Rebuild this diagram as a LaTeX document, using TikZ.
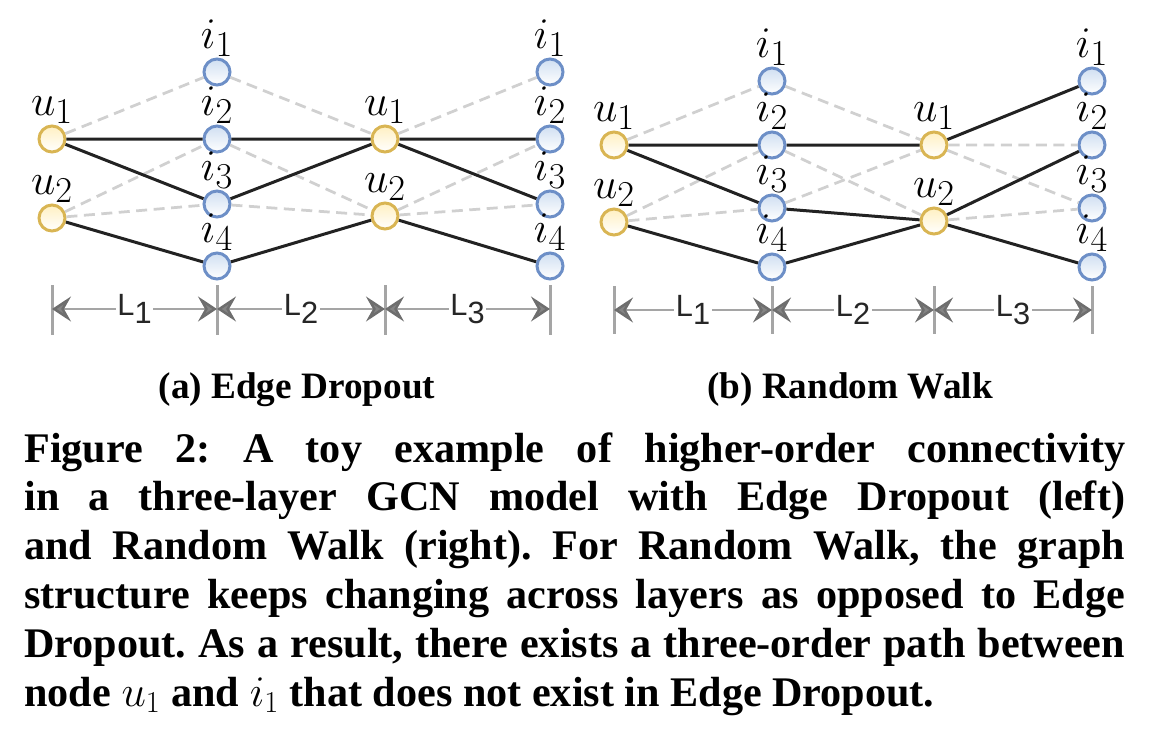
\documentclass[tikz,border=0pt]{standalone}
\usepackage{fontspec}
\setmainfont{Liberation Serif}
\newfontfamily\dimfont{Liberation Sans}
\usetikzlibrary{arrows.meta}

\definecolor{ugold}{HTML}{D9B553}
\definecolor{ufill}{HTML}{FFF0C2}
\definecolor{iblue}{HTML}{6D8FC7}
\definecolor{ifill}{HTML}{D0DFF2}
\definecolor{edgedark}{HTML}{222222}
\definecolor{edgelight}{HTML}{D0D0D0}
\definecolor{dimgray}{HTML}{A5A5A5}
\definecolor{tipgray}{HTML}{6E6E6E}

\newcommand{\layerlab}[1]{{\dimfont L\raisebox{-0.25em}{#1}}}

\tikzset{
  unode/.style={circle, draw=ugold, line width=0.06cm, top color=ufill, bottom color=white,
    minimum size=0.52cm, inner sep=0pt},
  inode/.style={circle, draw=iblue, line width=0.06cm, top color=ifill, bottom color=white,
    minimum size=0.52cm, inner sep=0pt},
  nlab/.style={font=\fontsize{24.88}{28}\selectfont, inner sep=0.3pt},
  kept/.style={draw=edgedark, line width=0.06cm},
  dropped/.style={draw=edgelight, line width=0.055cm, dash pattern=on 0.22cm off 0.13cm},
  dimtip/.tip={Stealth[length=0.38cm, width=0.5cm, inset=0.14cm, fill=tipgray!85, color=tipgray]},
  dimline/.style={draw=dimgray, line width=0.05cm, dimtip-dimtip},
  dimtick/.style={draw=dimgray, line width=0.06cm},
  dimlab/.style={fill=white, inner sep=1pt, text=black!85, font=\fontsize{17.5}{19}\selectfont},
  subcap/.style={anchor=base, inner sep=0pt, font=\bfseries\fontsize{21.2}{24}\selectfont},
  caption/.style={anchor=base west, inner sep=0pt, text width=22.02cm, align=justify,
    font=\bfseries\fontsize{24}{27.8}\selectfont}
}

\begin{document}
\begin{tikzpicture}[x=0.02cm, y=-0.02cm]
    \useasboundingbox (0,0) rectangle (1150,730);

    % --- (a) Edge Dropout ---
    \node[unode, label={[nlab]above:$u_1$}] (a-u1) at (52,139) {};
    \node[unode, label={[nlab]above:$u_2$}] (a-u2) at (52,218) {};
    \node[inode, label={[nlab]above:$i_1$}] (a-i1) at (217,72) {};
    \node[inode, label={[nlab]above:$i_2$}] (a-i2) at (217,139) {};
    \node[inode, label={[nlab]above:$i_3$}] (a-i3) at (217,204) {};
    \node[inode, label={[nlab]above:$i_4$}] (a-i4) at (217,266) {};
    \node[unode, label={[nlab]above:$u_1$}] (a-m1) at (385,139) {};
    \node[unode, label={[nlab]above:$u_2$}] (a-m2) at (385,216) {};
    \node[inode, label={[nlab]above:$i_1$}] (a-o1) at (550,72) {};
    \node[inode, label={[nlab]above:$i_2$}] (a-o2) at (550,139) {};
    \node[inode, label={[nlab]above:$i_3$}] (a-o3) at (550,204) {};
    \node[inode, label={[nlab]above:$i_4$}] (a-o4) at (550,266) {};

    % dropped edges
    \draw[dropped] (a-u1) -- (a-i1) (a-u2) -- (a-i2) (a-u2) -- (a-i3)
        (a-i1) -- (a-m1) (a-i2) -- (a-m2) (a-i3) -- (a-m2)
        (a-m1) -- (a-o1) (a-m2) -- (a-o2) (a-m2) -- (a-o3);
    % kept edges
    \draw[kept] (a-u1) -- (a-i2) (a-u1) -- (a-i3) (a-u2) -- (a-i4)
        (a-i2) -- (a-m1) (a-i3) -- (a-m1) (a-i4) -- (a-m2)
        (a-m1) -- (a-o2) (a-m1) -- (a-o3) (a-m2) -- (a-o4);

    % layers
    \coordinate (a-d0) at (52,309);
    \coordinate (a-d1) at (217,309);
    \coordinate (a-d2) at (385,309);
    \coordinate (a-d3) at (550,309);
    \draw[dimtick] (52,285) -- (52,335) (217,285) -- (217,335)
        (385,285) -- (385,335) (550,285) -- (550,335);
    \draw[dimline] (a-d0) -- node[dimlab] {\layerlab{1}} (a-d1);
    \draw[dimline] (a-d1) -- node[dimlab] {\layerlab{2}} (a-d2);
    \draw[dimline] (a-d2) -- node[dimlab] {\layerlab{3}} (a-d3);

    \node[subcap] (a-cap) at (297,398) {(a) Edge Dropout};

    % --- (b) Random Walk ---
    \node[unode, label={[nlab]above:$u_1$}] (b-u1) at (614,145) {};
    \node[unode, label={[nlab]above:$u_2$}] (b-u2) at (614,222) {};
    \node[inode, label={[nlab]above:$i_1$}] (b-i1) at (772,81) {};
    \node[inode, label={[nlab]above:$i_2$}] (b-i2) at (772,145) {};
    \node[inode, label={[nlab]above:$i_3$}] (b-i3) at (772,208) {};
    \node[inode, label={[nlab]above:$i_4$}] (b-i4) at (772,267) {};
    \node[unode, label={[nlab]above:$u_1$}] (b-m1) at (934,145) {};
    \node[unode, label={[nlab]above:$u_2$}] (b-m2) at (934,221) {};
    \node[inode, label={[nlab]above:$i_1$}] (b-o1) at (1092,81) {};
    \node[inode, label={[nlab]above:$i_2$}] (b-o2) at (1092,145) {};
    \node[inode, label={[nlab]above:$i_3$}] (b-o3) at (1092,208) {};
    \node[inode, label={[nlab]above:$i_4$}] (b-o4) at (1092,267) {};

    % dropped edges
    \draw[dropped] (b-u1) -- (b-i1) (b-u2) -- (b-i2) (b-u2) -- (b-i3)
        (b-i1) -- (b-m1) (b-i3) -- (b-m1) (b-i2) -- (b-m2)
        (b-m1) -- (b-o2) (b-m1) -- (b-o3) (b-m2) -- (b-o3);
    % kept edges
    \draw[kept] (b-u1) -- (b-i2) (b-u1) -- (b-i3) (b-u2) -- (b-i4)
        (b-i2) -- (b-m1) (b-i3) -- (b-m2) (b-i4) -- (b-m2)
        (b-m1) -- (b-o1) (b-m2) -- (b-o2) (b-m2) -- (b-o4);

    % layers
    \coordinate (b-d0) at (614,310);
    \coordinate (b-d1) at (772,310);
    \coordinate (b-d2) at (934,310);
    \coordinate (b-d3) at (1092,310);
    \draw[dimtick] (614,286) -- (614,334) (772,286) -- (772,334)
        (934,286) -- (934,334) (1092,286) -- (1092,334);
    \draw[dimline] (b-d0) -- node[dimlab] {\layerlab{1}} (b-d1);
    \draw[dimline] (b-d1) -- node[dimlab] {\layerlab{2}} (b-d2);
    \draw[dimline] (b-d2) -- node[dimlab] {\layerlab{3}} (b-d3);

    \node[subcap] (b-cap) at (850,398) {(b) Random Walk};

    % --- caption ---
    \node[caption] (fig-cap) at (24,462) {\frenchspacing Figure 2: A toy example of higher-order connectivity\linebreak
        in a three-layer GCN model with Edge Dropout (left)\linebreak
        and Random Walk (right). For Random Walk, the graph\linebreak
        structure keeps changing across layers as opposed to Edge\linebreak
        Dropout. As a result, there exists a three-order path between\linebreak
        node $u_1$ and $i_1$ that does not exist in Edge Dropout.};

\end{tikzpicture}
\end{document}
